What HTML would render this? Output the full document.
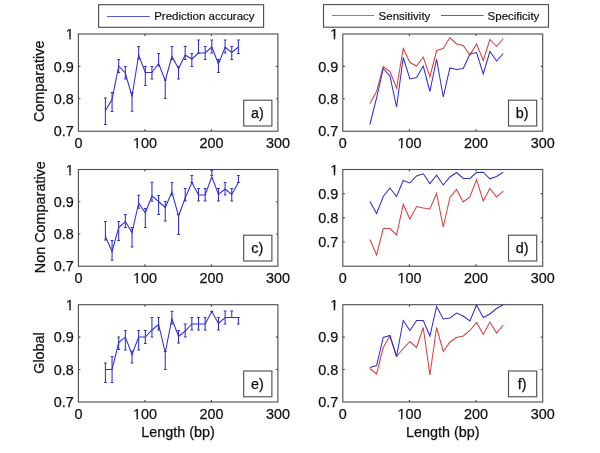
<!DOCTYPE html>
<html><head><meta charset="utf-8"><title>figure</title>
<style>
html,body{margin:0;padding:0;background:#fff;}
body{width:600px;height:453px;overflow:hidden;}
svg{display:block;will-change:transform;}
.t{font-family:"Liberation Sans",sans-serif;font-size:14.4px;fill:#111;stroke:#111;stroke-width:0.25px;}
.l{font-family:"Liberation Sans",sans-serif;font-size:11.5px;fill:#111;stroke:#111;stroke-width:0.2px;}
</style></head><body>
<svg width="600" height="453" viewBox="0 0 600 453">
<rect width="600" height="453" fill="#fff"/>
<polyline points="105.4,110.5 112.05,99.5 118.7,66 125.35,73 132,96.5 138.65,55 145.3,72.5 151.95,72.5 158.6,63.5 165.25,80.5 171.9,56.5 178.55,68.5 185.2,55 191.85,59 198.5,53 205.15,53 211.8,47 218.45,64 225.1,47 231.75,52.5 238.4,47" fill="none" stroke="#3030c8" stroke-width="1.05" stroke-linejoin="miter"/>
<path d="M105.4 98V124.5M104 98h2.8M104 124.5h2.8M112.05 92.5V111.5M110.65 92.5h2.8M110.65 111.5h2.8M118.7 59.5V72.5M117.3 59.5h2.8M117.3 72.5h2.8M125.35 66.5V79M123.95 66.5h2.8M123.95 79h2.8M132 92.4V111.3M130.6 92.4h2.8M130.6 111.3h2.8M138.65 46.5V59M137.25 46.5h2.8M137.25 59h2.8M145.3 66.5V85.5M143.9 66.5h2.8M143.9 85.5h2.8M151.95 66.5V79M150.55 66.5h2.8M150.55 79h2.8M158.6 53.5V66M157.2 53.5h2.8M157.2 66h2.8M165.25 80V98.5M163.85 80h2.8M163.85 98.5h2.8M171.9 46.5V59.5M170.5 46.5h2.8M170.5 59.5h2.8M178.55 66.5V79M177.15 66.5h2.8M177.15 79h2.8M185.2 46.5V59.5M183.8 46.5h2.8M183.8 59.5h2.8M191.85 53.5V66.5M190.45 53.5h2.8M190.45 66.5h2.8M198.5 40V53M197.1 40h2.8M197.1 53h2.8M205.15 46.5V59.5M203.75 46.5h2.8M203.75 59.5h2.8M211.8 40V53M210.4 40h2.8M210.4 53h2.8M218.45 59.5V72.5M217.05 59.5h2.8M217.05 72.5h2.8M225.1 40V53M223.7 40h2.8M223.7 53h2.8M231.75 46.5V59.5M230.35 46.5h2.8M230.35 59.5h2.8M238.4 40V53.5M237 40h2.8M237 53.5h2.8" fill="none" stroke="#3030c8" stroke-width="1.05"/>
<polyline points="105.4,236.5 112.05,251.5 118.7,227.5 125.35,221.5 132,232.5 138.65,203.2 145.3,212.8 151.95,195.8 158.6,201.5 165.25,207.5 171.9,192 178.55,216 185.2,198 191.85,182.5 198.5,195 205.15,195 211.8,176.8 218.45,194.5 225.1,189 231.75,194.5 238.4,182.5" fill="none" stroke="#3030c8" stroke-width="1.05" stroke-linejoin="miter"/>
<path d="M105.4 221.5V240M104 221.5h2.8M104 240h2.8M112.05 240.5V260.3M110.65 240.5h2.8M110.65 260.3h2.8M118.7 221.5V240.5M117.3 221.5h2.8M117.3 240.5h2.8M125.35 214.5V227.5M123.95 214.5h2.8M123.95 227.5h2.8M132 227.5V247M130.6 227.5h2.8M130.6 247h2.8M138.65 195.2V208.2M137.25 195.2h2.8M137.25 208.2h2.8M145.3 208.5V227.5M143.9 208.5h2.8M143.9 227.5h2.8M151.95 182.3V201.3M150.55 182.3h2.8M150.55 201.3h2.8M158.6 195.5V214.5M157.2 195.5h2.8M157.2 214.5h2.8M165.25 201.5V221M163.85 201.5h2.8M163.85 221h2.8M171.9 182.5V195M170.5 182.5h2.8M170.5 195h2.8M178.55 214.5V234.5M177.15 214.5h2.8M177.15 234.5h2.8M185.2 188.5V201M183.8 188.5h2.8M183.8 201h2.8M191.85 175.5V182.5M190.45 175.5h2.8M190.45 182.5h2.8M198.5 188.5V201M197.1 188.5h2.8M197.1 201h2.8M205.15 188.5V201M203.75 188.5h2.8M203.75 201h2.8M211.8 170.2V175.5M210.4 170.2h2.8M210.4 175.5h2.8M218.45 188.5V201M217.05 188.5h2.8M217.05 201h2.8M225.1 182.5V195M223.7 182.5h2.8M223.7 195h2.8M231.75 188.5V201M230.35 188.5h2.8M230.35 201h2.8M238.4 175.5V182.5M237 175.5h2.8M237 182.5h2.8" fill="none" stroke="#3030c8" stroke-width="1.05"/>
<polyline points="105.4,369.5 112.05,369.5 118.7,342.5 125.35,337 132,354.5 138.65,337 145.3,337 151.95,330 158.6,324.5 165.25,352.5 171.9,319 178.55,336.5 185.2,331 191.85,324 198.5,324 205.15,324 211.8,311.5 218.45,323.5 225.1,317.5 231.75,317.5 238.4,317.5" fill="none" stroke="#3030c8" stroke-width="1.05" stroke-linejoin="miter"/>
<path d="M105.4 363V382.5M104 363h2.8M104 382.5h2.8M112.05 356.5V382.5M110.65 356.5h2.8M110.65 382.5h2.8M118.7 337V349.5M117.3 337h2.8M117.3 349.5h2.8M125.35 330.5V350M123.95 330.5h2.8M123.95 350h2.8M132 351V363M130.6 351h2.8M130.6 363h2.8M138.65 330.5V350M137.25 330.5h2.8M137.25 350h2.8M145.3 330.5V343.5M143.9 330.5h2.8M143.9 343.5h2.8M151.95 317.5V337M150.55 317.5h2.8M150.55 337h2.8M158.6 317.5V330M157.2 317.5h2.8M157.2 330h2.8M165.25 351.5V369.5M163.85 351.5h2.8M163.85 369.5h2.8M171.9 311.2V324M170.5 311.2h2.8M170.5 324h2.8M178.55 330.5V343M177.15 330.5h2.8M177.15 343h2.8M185.2 324V337M183.8 324h2.8M183.8 337h2.8M191.85 317.5V330M190.45 317.5h2.8M190.45 330h2.8M198.5 317.5V330M197.1 317.5h2.8M197.1 330h2.8M205.15 317.5V330M203.75 317.5h2.8M203.75 330h2.8M211.8 311.3V311.7M210.4 311.3h2.8M210.4 311.7h2.8M218.45 317.5V330M217.05 317.5h2.8M217.05 330h2.8M225.1 311V324M223.7 311h2.8M223.7 324h2.8M231.75 311V317.5M230.35 311h2.8M230.35 317.5h2.8M238.4 317.5V324M237 317.5h2.8M237 324h2.8" fill="none" stroke="#3030c8" stroke-width="1.05"/>
<polyline points="369.9,103.5 376.57,91.5 383.23,66.5 389.9,71.5 396.57,88 403.23,48.5 409.9,62.5 416.57,66 423.24,57 429.9,77 436.57,50.5 443.24,48.5 449.9,37.5 456.57,44 463.24,45.5 469.9,55 476.57,44 483.24,60.5 489.91,39.5 496.57,46.5 503.24,38.5" fill="none" stroke="#d04444" stroke-width="1.05"/>
<polyline points="369.9,124.5 376.57,98 383.23,68.5 389.9,76 396.57,107 403.23,57.5 409.9,79 416.57,77.5 423.24,66 429.9,91.5 436.57,59 443.24,97 449.9,68 456.57,69.5 463.24,68.5 469.9,54 476.57,52.5 483.24,74 489.91,51.5 496.57,61 503.24,53.5" fill="none" stroke="#3030c8" stroke-width="1.05"/>
<polyline points="369.9,239.5 376.57,255 383.23,228.5 389.9,228.5 396.57,235 403.23,204.5 409.9,219 416.57,206.5 423.24,208 429.9,209 436.57,193.5 443.24,227 449.9,197.5 456.57,189.5 463.24,202 469.9,197 476.57,179.5 483.24,201 489.91,188.5 496.57,197 503.24,191.2" fill="none" stroke="#d04444" stroke-width="1.05"/>
<polyline points="369.9,201.5 376.57,213.5 383.23,196.5 389.9,188 396.57,196.5 403.23,180.5 409.9,183 416.57,176 423.24,173.8 429.9,183.5 436.57,175.2 443.24,185 449.9,177 456.57,172.5 463.24,178.5 469.9,178.5 476.57,172.5 483.24,172.2 489.91,178.8 496.57,176.5 503.24,172.2" fill="none" stroke="#3030c8" stroke-width="1.05"/>
<polyline points="369.9,368.5 376.57,374 383.23,347.5 389.9,336 396.57,356.5 403.23,348.5 409.9,341.5 416.57,347.5 423.24,327.5 429.9,375 436.57,327.5 443.24,351.5 449.9,342 456.57,337.5 463.24,336 469.9,330.5 476.57,322.5 483.24,334.5 489.91,322 496.57,333 503.24,325" fill="none" stroke="#d04444" stroke-width="1.05"/>
<polyline points="369.9,367.5 376.57,365.5 383.23,337.5 389.9,335.5 396.57,356.5 403.23,320.5 409.9,330.5 416.57,320.5 423.24,320.5 429.9,336 436.57,306.5 443.24,319 449.9,318 456.57,313 463.24,316 469.9,321 476.57,305 483.24,317.5 489.91,314 496.57,308.5 503.24,304.8" fill="none" stroke="#3030c8" stroke-width="1.05"/>
<rect x="78.4" y="34" width="199.5" height="97.2" fill="none" stroke="#4a4a4a" stroke-width="1.1"/>
<text x="78.4" y="148.4" text-anchor="middle" class="t">0</text>
<path d="M144.9 131.2v-2M144.9 34v2" stroke="#4a4a4a" stroke-width="1.1"/>
<text x="144.9" y="148.4" text-anchor="middle" class="t">100</text>
<path d="M133.52 146H136.35V149.7H133.52ZM137.94 146H141.22V149.7H137.94Z" fill="#fff"/>
<path d="M211.4 131.2v-2M211.4 34v2" stroke="#4a4a4a" stroke-width="1.1"/>
<text x="211.4" y="148.4" text-anchor="middle" class="t">200</text>
<text x="277.9" y="148.4" text-anchor="middle" class="t">300</text>
<text x="73.8" y="39.1" text-anchor="end" class="t">1</text>
<path d="M66.42 36.7H69.25V40.4H66.42ZM70.85 36.7H74.12V40.4H70.85Z" fill="#fff"/>
<path d="M78.4 66.4h2M277.9 66.4h-2" stroke="#4a4a4a" stroke-width="1.1"/>
<text x="73.8" y="71.5" text-anchor="end" class="t">0.9</text>
<path d="M78.4 98.8h2M277.9 98.8h-2" stroke="#4a4a4a" stroke-width="1.1"/>
<text x="73.8" y="103.9" text-anchor="end" class="t">0.8</text>
<text x="73.8" y="136.3" text-anchor="end" class="t">0.7</text>
<rect x="243.7" y="100.2" width="28.2" height="25.8" fill="#fff" stroke="#4a4a4a" stroke-width="1.1"/>
<text x="257.3" y="117.8" text-anchor="middle" class="t">a)</text>
<rect x="342.8" y="34" width="199.9" height="97.2" fill="none" stroke="#4a4a4a" stroke-width="1.1"/>
<text x="342.8" y="148.4" text-anchor="middle" class="t">0</text>
<path d="M409.43 131.2v-2M409.43 34v2" stroke="#4a4a4a" stroke-width="1.1"/>
<text x="409.43" y="148.4" text-anchor="middle" class="t">100</text>
<path d="M398.05 146H400.88V149.7H398.05ZM402.47 146H405.75V149.7H402.47Z" fill="#fff"/>
<path d="M476.07 131.2v-2M476.07 34v2" stroke="#4a4a4a" stroke-width="1.1"/>
<text x="476.07" y="148.4" text-anchor="middle" class="t">200</text>
<text x="542.7" y="148.4" text-anchor="middle" class="t">300</text>
<text x="338.2" y="39.1" text-anchor="end" class="t">1</text>
<path d="M330.82 36.7H333.65V40.4H330.82ZM335.25 36.7H338.52V40.4H335.25Z" fill="#fff"/>
<path d="M342.8 66.4h2M542.7 66.4h-2" stroke="#4a4a4a" stroke-width="1.1"/>
<text x="338.2" y="71.5" text-anchor="end" class="t">0.9</text>
<path d="M342.8 98.8h2M542.7 98.8h-2" stroke="#4a4a4a" stroke-width="1.1"/>
<text x="338.2" y="103.9" text-anchor="end" class="t">0.8</text>
<text x="338.2" y="136.3" text-anchor="end" class="t">0.7</text>
<rect x="508.5" y="100.2" width="28.2" height="25.8" fill="#fff" stroke="#4a4a4a" stroke-width="1.1"/>
<text x="522.1" y="117.8" text-anchor="middle" class="t">b)</text>
<rect x="78.4" y="169.5" width="199.5" height="96.7" fill="none" stroke="#4a4a4a" stroke-width="1.1"/>
<text x="78.4" y="283.4" text-anchor="middle" class="t">0</text>
<path d="M144.9 266.2v-2M144.9 169.5v2" stroke="#4a4a4a" stroke-width="1.1"/>
<text x="144.9" y="283.4" text-anchor="middle" class="t">100</text>
<path d="M133.52 281H136.35V284.7H133.52ZM137.94 281H141.22V284.7H137.94Z" fill="#fff"/>
<path d="M211.4 266.2v-2M211.4 169.5v2" stroke="#4a4a4a" stroke-width="1.1"/>
<text x="211.4" y="283.4" text-anchor="middle" class="t">200</text>
<text x="277.9" y="283.4" text-anchor="middle" class="t">300</text>
<text x="73.8" y="174.6" text-anchor="end" class="t">1</text>
<path d="M66.42 172.2H69.25V175.9H66.42ZM70.85 172.2H74.12V175.9H70.85Z" fill="#fff"/>
<path d="M78.4 201.73h2M277.9 201.73h-2" stroke="#4a4a4a" stroke-width="1.1"/>
<text x="73.8" y="206.83" text-anchor="end" class="t">0.9</text>
<path d="M78.4 233.97h2M277.9 233.97h-2" stroke="#4a4a4a" stroke-width="1.1"/>
<text x="73.8" y="239.07" text-anchor="end" class="t">0.8</text>
<text x="73.8" y="271.3" text-anchor="end" class="t">0.7</text>
<rect x="243.7" y="235.2" width="28.2" height="25.8" fill="#fff" stroke="#4a4a4a" stroke-width="1.1"/>
<text x="257.3" y="252.8" text-anchor="middle" class="t">c)</text>
<rect x="342.8" y="169.5" width="199.9" height="96.7" fill="none" stroke="#4a4a4a" stroke-width="1.1"/>
<text x="342.8" y="283.4" text-anchor="middle" class="t">0</text>
<path d="M409.43 266.2v-2M409.43 169.5v2" stroke="#4a4a4a" stroke-width="1.1"/>
<text x="409.43" y="283.4" text-anchor="middle" class="t">100</text>
<path d="M398.05 281H400.88V284.7H398.05ZM402.47 281H405.75V284.7H402.47Z" fill="#fff"/>
<path d="M476.07 266.2v-2M476.07 169.5v2" stroke="#4a4a4a" stroke-width="1.1"/>
<text x="476.07" y="283.4" text-anchor="middle" class="t">200</text>
<text x="542.7" y="283.4" text-anchor="middle" class="t">300</text>
<text x="338.2" y="174.6" text-anchor="end" class="t">1</text>
<path d="M330.82 172.2H333.65V175.9H330.82ZM335.25 172.2H338.52V175.9H335.25Z" fill="#fff"/>
<path d="M342.8 193.67h2M542.7 193.67h-2" stroke="#4a4a4a" stroke-width="1.1"/>
<text x="338.2" y="198.77" text-anchor="end" class="t">0.9</text>
<path d="M342.8 217.85h2M542.7 217.85h-2" stroke="#4a4a4a" stroke-width="1.1"/>
<text x="338.2" y="222.95" text-anchor="end" class="t">0.8</text>
<path d="M342.8 242.03h2M542.7 242.03h-2" stroke="#4a4a4a" stroke-width="1.1"/>
<text x="338.2" y="247.12" text-anchor="end" class="t">0.7</text>
<rect x="508.5" y="235.2" width="28.2" height="25.8" fill="#fff" stroke="#4a4a4a" stroke-width="1.1"/>
<text x="522.1" y="252.8" text-anchor="middle" class="t">d)</text>
<rect x="78.4" y="304.7" width="199.5" height="97.3" fill="none" stroke="#4a4a4a" stroke-width="1.1"/>
<text x="78.4" y="419.2" text-anchor="middle" class="t">0</text>
<path d="M144.9 402v-2M144.9 304.7v2" stroke="#4a4a4a" stroke-width="1.1"/>
<text x="144.9" y="419.2" text-anchor="middle" class="t">100</text>
<path d="M133.52 416.8H136.35V420.5H133.52ZM137.94 416.8H141.22V420.5H137.94Z" fill="#fff"/>
<path d="M211.4 402v-2M211.4 304.7v2" stroke="#4a4a4a" stroke-width="1.1"/>
<text x="211.4" y="419.2" text-anchor="middle" class="t">200</text>
<text x="277.9" y="419.2" text-anchor="middle" class="t">300</text>
<text x="73.8" y="309.8" text-anchor="end" class="t">1</text>
<path d="M66.42 307.4H69.25V311.1H66.42ZM70.85 307.4H74.12V311.1H70.85Z" fill="#fff"/>
<path d="M78.4 337.13h2M277.9 337.13h-2" stroke="#4a4a4a" stroke-width="1.1"/>
<text x="73.8" y="342.23" text-anchor="end" class="t">0.9</text>
<path d="M78.4 369.57h2M277.9 369.57h-2" stroke="#4a4a4a" stroke-width="1.1"/>
<text x="73.8" y="374.67" text-anchor="end" class="t">0.8</text>
<text x="73.8" y="407.1" text-anchor="end" class="t">0.7</text>
<rect x="243.7" y="371" width="28.2" height="25.8" fill="#fff" stroke="#4a4a4a" stroke-width="1.1"/>
<text x="257.3" y="388.6" text-anchor="middle" class="t">e)</text>
<rect x="342.8" y="304.7" width="199.9" height="97.3" fill="none" stroke="#4a4a4a" stroke-width="1.1"/>
<text x="342.8" y="419.2" text-anchor="middle" class="t">0</text>
<path d="M409.43 402v-2M409.43 304.7v2" stroke="#4a4a4a" stroke-width="1.1"/>
<text x="409.43" y="419.2" text-anchor="middle" class="t">100</text>
<path d="M398.05 416.8H400.88V420.5H398.05ZM402.47 416.8H405.75V420.5H402.47Z" fill="#fff"/>
<path d="M476.07 402v-2M476.07 304.7v2" stroke="#4a4a4a" stroke-width="1.1"/>
<text x="476.07" y="419.2" text-anchor="middle" class="t">200</text>
<text x="542.7" y="419.2" text-anchor="middle" class="t">300</text>
<text x="338.2" y="309.8" text-anchor="end" class="t">1</text>
<path d="M330.82 307.4H333.65V311.1H330.82ZM335.25 307.4H338.52V311.1H335.25Z" fill="#fff"/>
<path d="M342.8 337.13h2M542.7 337.13h-2" stroke="#4a4a4a" stroke-width="1.1"/>
<text x="338.2" y="342.23" text-anchor="end" class="t">0.9</text>
<path d="M342.8 369.57h2M542.7 369.57h-2" stroke="#4a4a4a" stroke-width="1.1"/>
<text x="338.2" y="374.67" text-anchor="end" class="t">0.8</text>
<text x="338.2" y="407.1" text-anchor="end" class="t">0.7</text>
<rect x="508.5" y="371" width="28.2" height="25.8" fill="#fff" stroke="#4a4a4a" stroke-width="1.1"/>
<text x="522.1" y="388.6" text-anchor="middle" class="t">f)</text>
<rect x="98.6" y="4.7" width="165" height="22.6" fill="#fff" stroke="#4a4a4a" stroke-width="1.1"/>
<path d="M107 16.5H149.8" stroke="#5a5ac8" stroke-width="1"/>
<text x="154.2" y="20.4" class="l">Prediction accuracy</text>
<rect x="323.5" y="4.6" width="225" height="22.6" fill="#fff" stroke="#4a4a4a" stroke-width="1.1"/>
<path d="M332 15.5H374.4" stroke="#d06464" stroke-width="1"/>
<text x="378.6" y="20.4" class="l">Sensitivity</text>
<path d="M441 15.5H483.6" stroke="#5a5ac8" stroke-width="1"/>
<text x="487.6" y="20.4" class="l">Specificity</text>
<text x="178" y="436.6" text-anchor="middle" class="t">Length (bp)</text>
<text x="442.7" y="436.6" text-anchor="middle" class="t">Length (bp)</text>
<text transform="translate(44.4 81.3) rotate(-90)" text-anchor="middle" class="t">Comparative</text>
<text transform="translate(44.8 217.2) rotate(-90)" text-anchor="middle" class="t">Non Comparative</text>
<text transform="translate(44.4 353) rotate(-90)" text-anchor="middle" class="t">Global</text>
</svg>
</body></html>
